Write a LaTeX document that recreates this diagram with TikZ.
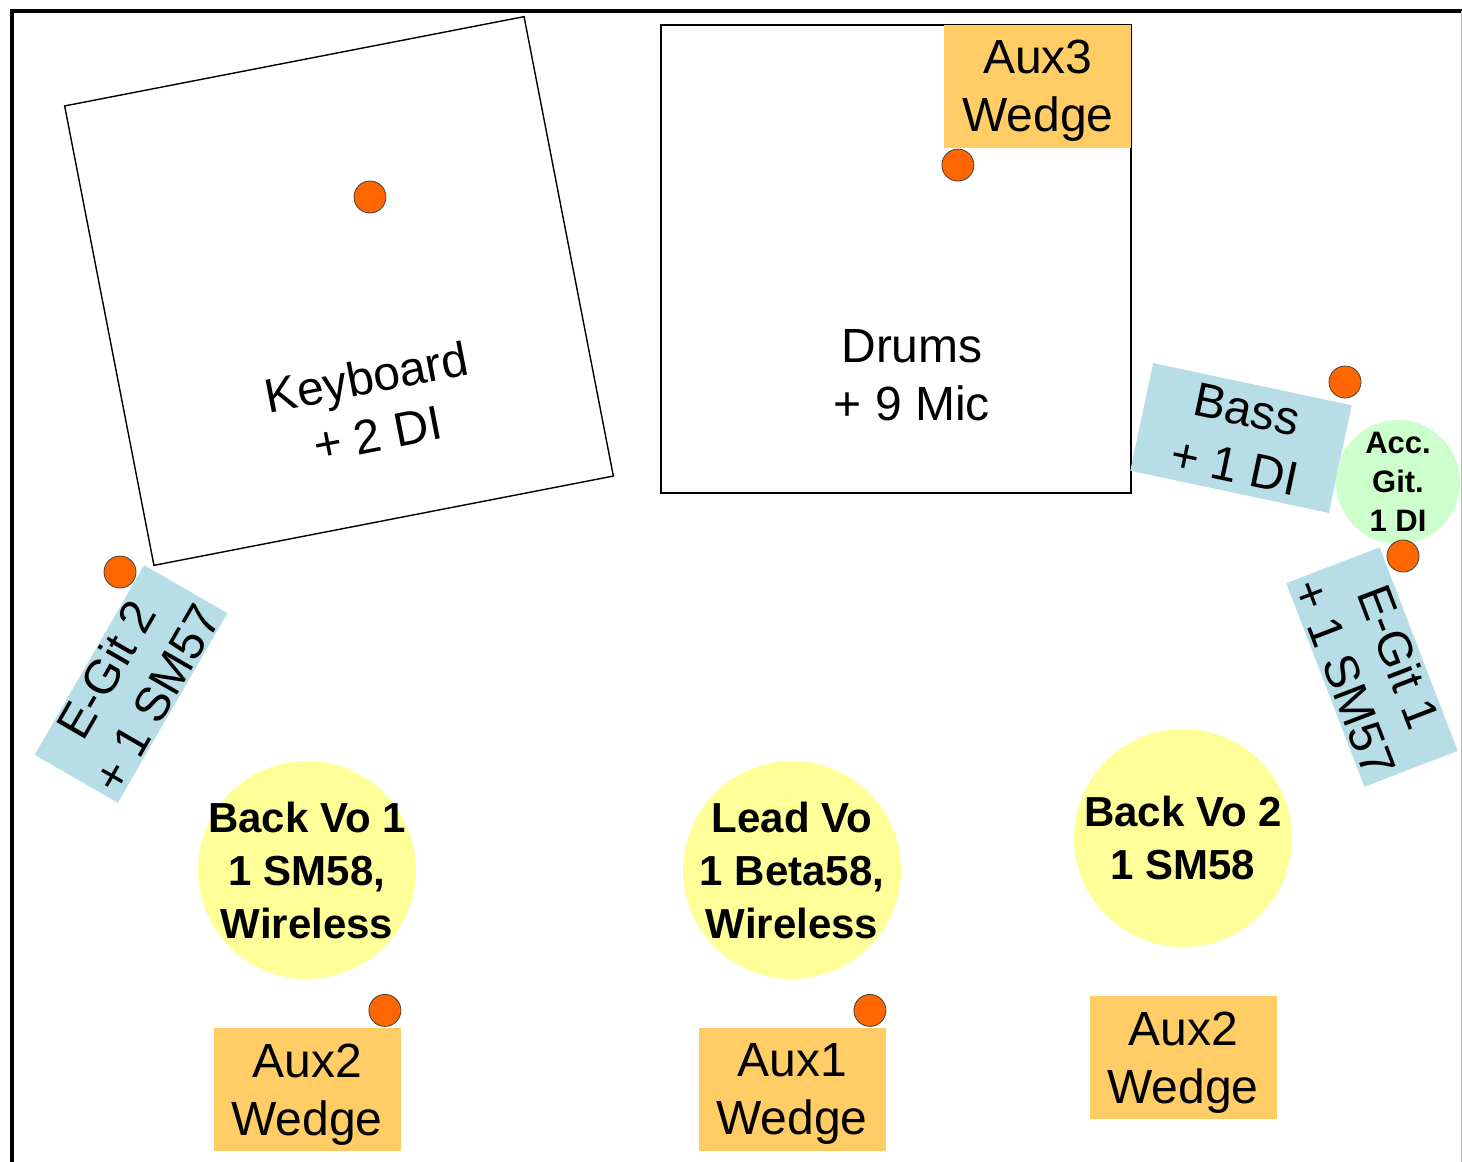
\documentclass[tikz,border=0pt]{standalone}
\usepackage{fontspec}
\setmainfont{Liberation Sans}
\usepackage{xcolor}
\usetikzlibrary{positioning}

\definecolor{wedgeorange}{RGB}{255,204,102}
\definecolor{ampblue}{RGB}{183,221,230}
\definecolor{vocyellow}{RGB}{255,255,153}
\definecolor{accgreen}{RGB}{204,255,204}
\definecolor{plugorange}{RGB}{255,102,0}

\begin{document}
\begin{tikzpicture}[x=0.5pt,y=-0.5pt,node distance=24pt,
    riser/.style={draw,line width=0.7pt,inner sep=0pt},
    txt/.style={align=center,font=\fontsize{24}{29}\selectfont},
    wedge/.style={txt,fill=wedgeorange,minimum width=93.5pt,minimum height=61.5pt,inner sep=0pt,text depth=0pt},
    amp/.style={txt,fill=ampblue,inner sep=0pt},
    voc/.style={circle,fill=vocyellow,minimum size=109pt,inner sep=0pt},
    voctext/.style={align=center,font=\bfseries\fontsize{21}{26.5}\selectfont},
    plug/.style={circle,fill=plugorange,draw=black!75,line width=0.4pt,minimum size=16pt,inner sep=0pt}]
    	\useasboundingbox (0,0) rectangle (1462,1162);
    	% stage frame
    	\draw[line width=2pt] (12,1162) -- (12,11) -- (1462,11);
    	\draw[black!25] (1461,11) -- (1461,1162);
    	% keyboard and drums
    	\node (keyboard) [riser,rotate=11,minimum size=234pt] at (339,291) {};
    	\node (keytext) [txt,rotate=11] at (372,405) {Keyboard\\+ 2 DI};
    	\node (keyplug) [plug] at (370,197) {};
    	\node (drums) [riser,minimum width=235pt,minimum height=234pt] at (896,259) {};
    	\node (drumtext) [txt] at (912,375) {Drums\\+ 9 Mic};
    	\node (aux3) [wedge,anchor=north east] at (drums.north east) {Aux3\\Wedge};
    	\node (drumplug) [plug] at ([xshift=7pt,yshift=-8.5pt]aux3.south west) {};
    	% bass and guitars
    	\node (bass) [amp,rotate=-12,minimum width=101.5pt,minimum height=55pt] at (1241,438) {Bass\\+ 1 DI};
    	\node (bassplug) [plug] at (1345,382) {};
    	\node (accgit) [circle,fill=accgreen,minimum size=62pt,inner sep=0pt,align=center,
    	    font=\bfseries\fontsize{15.5}{19.5}\selectfont] at (1398,482) {Acc.\\Git.\\1 DI};
    	\node (accplug) [plug] at (1403,556) {};
    	\node (egit1) [amp,rotate=-69,minimum width=109pt,minimum height=50pt] at (1372,667) {E-Git 1\\+ 1 SM57};
    	\node (egit2) [amp,rotate=60,minimum width=109.5pt,minimum height=48pt] at (131,684) {E-Git 2\\+ 1 SM57};
    	\node (egit2plug) [plug] at (120,572) {};
    	% vocals and wedges
    	\node (backvo1) [voc,label={[voctext]center:Back Vo 1\\1 SM58,\\Wireless}] at (307,870) {};
    	\node (leadvo) [voc,label={[voctext]center:Lead Vo\\1 Beta58,\\Wireless}] at (792,870) {};
    	\node (backvo2) [voc,label={[voctext]center:Back Vo 2\\1 SM58}] at (1183,838) {};
    	\node (aux2l) [wedge,below=of backvo1] {Aux2\\Wedge};
    	\node (aux1) [wedge,below=of leadvo] {Aux1\\Wedge};
    	\node (aux2r) [wedge,below=of backvo2] {Aux2\\Wedge};
    	\node (bv1plug) [plug] at ([xshift=-8pt,yshift=8.5pt]aux2l.north east) {};
    	\node (leadplug) [plug] at ([xshift=-8pt,yshift=8.5pt]aux1.north east) {};
\end{tikzpicture}
\end{document}
